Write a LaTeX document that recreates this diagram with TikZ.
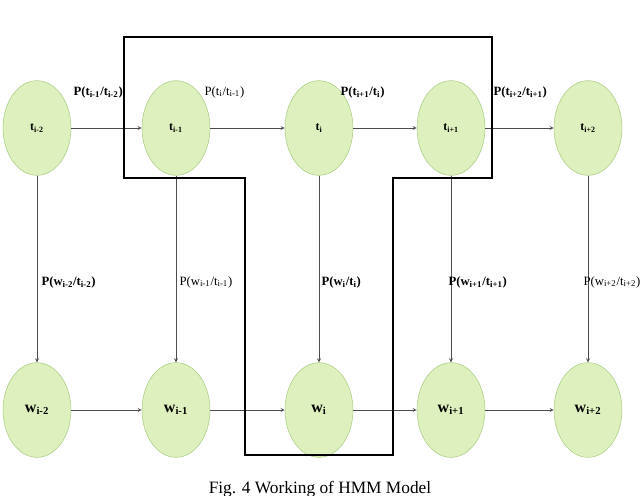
\documentclass[tikz,border=0pt]{standalone}
\usepackage{fontspec}
\setmainfont{Liberation Serif}
\usetikzlibrary{shapes.geometric}
\definecolor{nf}{RGB}{222,240,190}
\definecolor{nd}{RGB}{170,205,130}
\begin{document}
\begin{tikzpicture}[x=0.75pt,y=-0.75pt,
 st/.style={ellipse,draw=nd,fill=nf,minimum width=51pt,minimum height=71pt,inner sep=0pt,font=\bfseries\fontsize{9}{11}\selectfont},
 ar/.style={draw=black!70,->,>=stealth,thin},
 lb/.style={font=\fontsize{9.5}{11}\selectfont,inner sep=1pt}]
\useasboundingbox (0,0) rectangle (640,496);
\foreach \n/\x/\s in {a/37/i-2,b/176/i-1,c/319/i,d/451/i+1,e/588/i+2}{
 \node[st] (t\n) at (\x,128) {t\textsubscript{\s}};
 \node[st] (w\n) at (\x,410) {\fontsize{12}{12}\selectfont w\textsubscript{\s}};
 \draw[ar] (t\n) -- (w\n);
}
\foreach \p/\q in {a/b,b/c,c/d,d/e}{\draw[ar] (t\p) -- (t\q); \draw[ar] (w\p) -- (w\q);}
\draw[line width=2pt] (124,37) -- (492,37) -- (492,178) -- (393,178) -- (393,455) -- (245,455) -- (245,178) -- (124,178) -- cycle;
\node[lb,anchor=west] (l1) at (72,92) {\textbf{P(t\textsubscript{i-1}/t\textsubscript{i-2})}};
\node[lb,anchor=west] (l2) at (203,92) {P(t\textsubscript{i}/t\textsubscript{i-1})};
\node[lb,anchor=west] (l3) at (339,92) {\textbf{P(t\textsubscript{i+1}/t\textsubscript{i})}};
\node[lb,anchor=west] (l4) at (492,92) {\textbf{P(t\textsubscript{i+2}/t\textsubscript{i+1})}};
\node[lb,anchor=west] (v1) at (40,282) {\textbf{P(w\textsubscript{i-2}/t\textsubscript{i-2})}};
\node[lb,anchor=west] (v2) at (178,282) {P(w\textsubscript{i-1}/t\textsubscript{i-1})};
\node[lb,anchor=west] (v3) at (320,282) {\textbf{P(w\textsubscript{i}/t\textsubscript{i})}};
\node[lb,anchor=west] (v4) at (447,282) {\textbf{P(w\textsubscript{i+1}/t\textsubscript{i+1})}};
\node[lb,anchor=west] (v5) at (582,282) {P(w\textsubscript{i+2}/t\textsubscript{i+2})};
\node[font=\fontsize{13}{14}\selectfont] (cap) at (320,489) {Fig. 4 Working of HMM Model};
\end{tikzpicture}
\end{document}
